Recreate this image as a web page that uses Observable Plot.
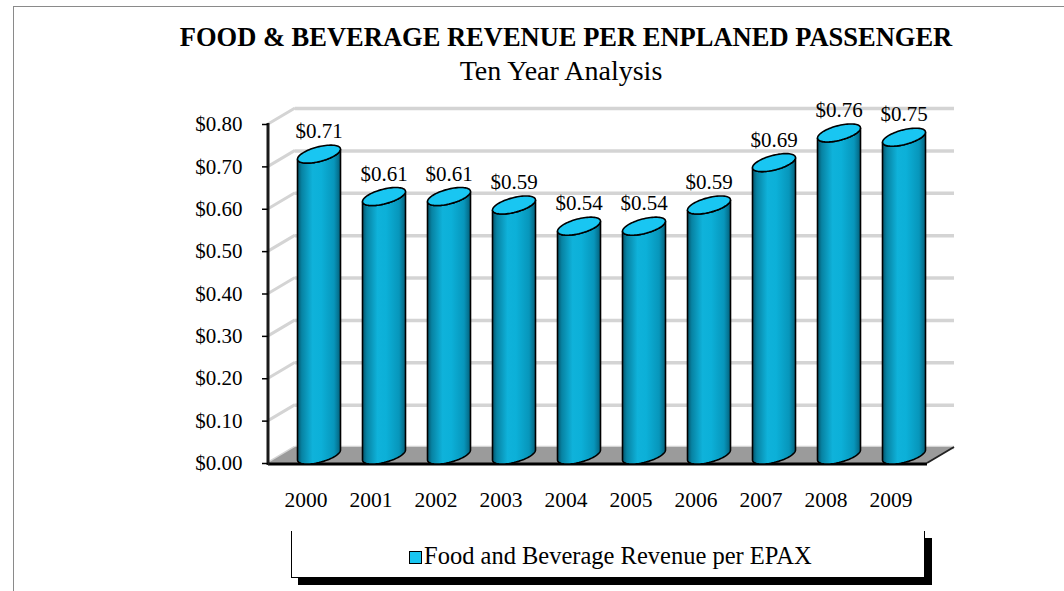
<!DOCTYPE html>
<html>
<head>
<meta charset="utf-8">
<script src="https://cdn.jsdelivr.net/npm/d3@7"></script>
<script src="https://cdn.jsdelivr.net/npm/@observablehq/plot@0.6"></script>
<style>
  body { margin: 0; background: #fff; font-family: "Liberation Serif", "Times New Roman", serif; }
  #wrap { position: relative; width: 1064px; height: 591px; overflow: hidden; background: #fff; }
  #border { position: absolute; left: 13px; top: 6px; width: 1200px; height: 700px; border-left: 1px solid #8a8a8a; border-top: 1px solid #8a8a8a; }
  #title { position: absolute; left: 0; width: 1132px; top: 22px; text-align: center; font-weight: bold; font-size: 26.5px; line-height: 30px; color: #000; }
  #subtitle { position: absolute; left: 0; width: 1122px; top: 56px; text-align: center; font-size: 28px; line-height: 30px; color: #000; }
  #chart { position: absolute; left: 0; top: 90px; }
  #legend { position: absolute; left: 291px; top: 531px; width: 632px; height: 46px; border-left: 1px solid #000; border-right: 1px solid #000; border-bottom: 1px solid #000; background: #fff; box-shadow: 7px 7px 0 #000; }
  #legend .item { position: absolute; left: 117px; top: 11px; font-size: 24.5px; line-height: 28px; color: #000; white-space: nowrap; }
  #legend .sw { display: inline-block; width: 11px; height: 11px; background: #19c6f2; border: 1.5px solid #000; margin-right: 2px; vertical-align: 0px; }
</style>
</head>
<body>
<div id="wrap">
  <div id="border"></div>
  <div id="title"></div>
  <div id="subtitle"></div>
  <div id="chart"></div>
  <div id="legend"></div>
</div>
<script>
// ---- data ----
const titleText = "FOOD & BEVERAGE REVENUE PER ENPLANED PASSENGER";
const subtitleText = "Ten Year Analysis";
const seriesName = "Food and Beverage Revenue per EPAX";
const years = ["2000", "2001", "2002", "2003", "2004", "2005", "2006", "2007", "2008", "2009"];
const revenue = [0.71, 0.61, 0.61, 0.59, 0.54, 0.54, 0.59, 0.69, 0.76, 0.75];
const yTicks = [0, 0.1, 0.2, 0.3, 0.4, 0.5, 0.6, 0.7, 0.8];

const data = years.map((year, i) => ({year, value: revenue[i]}));
const money = v => "$" + v.toFixed(2);

document.getElementById("title").textContent = titleText;
document.getElementById("subtitle").textContent = subtitleText;
document.getElementById("legend").innerHTML = `<div class="item"><span class="sw"></span>${seriesName}</div>`;

// 3D depth offset of the back wall
const DX = 27, DY = -16;

const chart = Plot.plot({
  width: 1064,
  height: 430,
  marginLeft: 268,
  marginRight: 137,
  marginTop: 34,
  marginBottom: 57,
  style: { fontFamily: "Liberation Serif, Times New Roman, serif", fontSize: "21px", color: "#000", background: "transparent", overflow: "visible" },
  x: { type: "band", domain: years, padding: 0, label: null },
  y: { domain: [0, 0.8], label: null },
  marks: [
    Plot.ruleY(yTicks, { dx: DX, dy: DY, stroke: "#d4d4d4", strokeWidth: 3.5 }),
    Plot.barY(data, { x: "year", y: "value", insetLeft: 11, insetRight: 11, fill: "#00a8d0" }),
    Plot.text(data, { x: "year", y: "value", text: d => money(d.value), dx: 13, dy: -31, fontSize: 21, fill: "#000" }),
    Plot.axisY({ ticks: yTicks, tickFormat: money, tickSize: 6, tickPadding: 20, strokeWidth: 1.5, fontSize: 21 }),
    Plot.axisX({ tickSize: 0, tickPadding: 28, fontSize: 21.5 })
  ]
});
document.getElementById("chart").appendChild(chart);

// ---- 3D decorations, positioned through Plot's scales ----
const NS = "http://www.w3.org/2000/svg";
const xs = chart.scale("x"), ys = chart.scale("y");
const X0 = Math.min(...xs.range), X1 = Math.max(...xs.range);
const Y0 = ys.apply(0), YT = ys.apply(0.8);
const svg = d3.select(chart);

const defs = svg.insert("defs", ":first-child");
const grad = defs.append("linearGradient").attr("id", "cyl").attr("x1", 0).attr("x2", 1).attr("y1", 0).attr("y2", 0);
[[0, "#04546b"], [0.1, "#0783a3"], [0.35, "#0fb2da"], [0.55, "#0cb0d8"], [0.85, "#0796bb"], [1, "#04607b"]]
  .forEach(([o, c]) => grad.append("stop").attr("offset", o).attr("stop-color", c));

const barNode = chart.querySelector('g[aria-label="bar"]');
const deco = d3.select(chart.insertBefore(document.createElementNS(NS, "g"), barNode));

// left wall connectors
deco.selectAll("line.wall").data(yTicks).join("line")
  .attr("x1", X0).attr("x2", X0 + DX)
  .attr("y1", d => ys.apply(d)).attr("y2", d => ys.apply(d) + DY)
  .attr("stroke", "#d4d4d4").attr("stroke-width", 3);
// floor
deco.append("polygon")
  .attr("points", [[X0, Y0], [X1, Y0], [X1 + DX, Y0 + DY], [X0 + DX, Y0 + DY]].map(p => p.join(",")).join(" "))
  .attr("fill", "#9b9b9b");
deco.append("line").attr("x1", X1).attr("y1", Y0).attr("x2", X1 + DX).attr("y2", Y0 + DY)
  .attr("stroke", "#222").attr("stroke-width", 2);
deco.append("line").attr("x1", X0).attr("y1", Y0 + 1).attr("x2", X1).attr("y2", Y0 + 1)
  .attr("stroke", "#000").attr("stroke-width", 3);
deco.append("line").attr("x1", X0).attr("y1", YT - 1).attr("x2", X0).attr("y2", Y0 + 2)
  .attr("stroke", "#1a1a1a").attr("stroke-width", 3);

// turn bars into cylinders
const S = 5, B = 7.5, N = 40;
d3.select(barNode).selectAll("rect").each(function () {
  const r = d3.select(this);
  const x = +r.attr("x"), w = +r.attr("width"), y = +r.attr("y"), h = +r.attr("height");
  const R = w / 2, cx = x + R + DX / 2;
  const cyT = y + DY / 2, cyB = y + h + DY / 2;
  const pt = (cy, t) => [cx + R * Math.cos(t), cy - B * Math.sin(t) - S * Math.cos(t)];
  const body = [];
  body.push(pt(cyT, Math.PI));
  for (let i = 0; i <= N; i++) body.push(pt(cyB, Math.PI + Math.PI * i / N));
  for (let i = 0; i <= N; i++) body.push(pt(cyT, 2 * Math.PI - Math.PI * i / N));
  const top = [];
  for (let i = 0; i < 2 * N; i++) top.push(pt(cyT, Math.PI * i / N));
  const g = d3.select(barNode);
  g.append("path").attr("d", "M" + body.map(p => p.join(",")).join("L") + "Z")
    .attr("fill", "url(#cyl)").attr("stroke", "#000").attr("stroke-width", 1.6);
  g.append("path").attr("d", "M" + top.map(p => p.join(",")).join("L") + "Z")
    .attr("fill", "#19c6f2").attr("stroke", "#000").attr("stroke-width", 1.6);
  r.remove();
});
</script>
</body>
</html>
